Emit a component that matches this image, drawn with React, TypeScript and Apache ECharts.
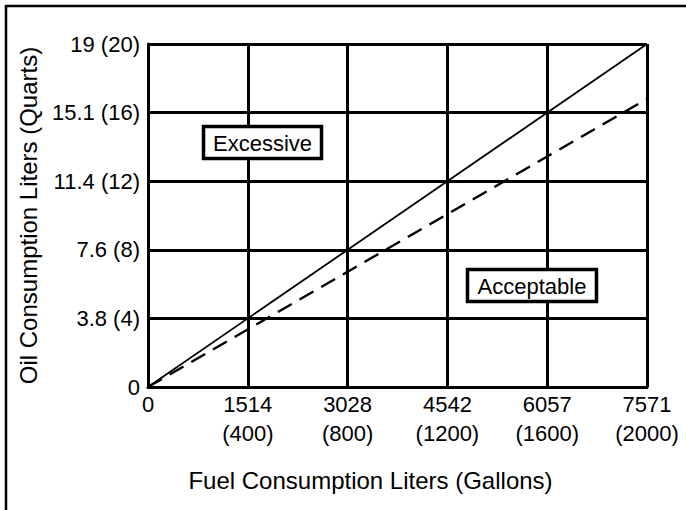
import React, { useEffect, useRef } from "react";
import * as echarts from "echarts";

// Tick labels
const xLiters = ["0", "1514", "3028", "4542", "6057", "7571"];
const xGallons = ["", "400", "800", "1200", "1600", "2000"];
const yLiters = ["0", "3.8", "7.6", "11.4", "15.1", "19"];
const yQuarts = ["", "4", "8", "12", "16", "20"];

// Series (x: gallons, y: quarts)
const limitLine: [number, number][] = [
  [0, 0],
  [2000, 20],
];
const dashedLine: [number, number][] = [
  [0, 0],
  [2000, 16.8],
];

// Region labels (data coords)
const regionLabels = [
  { text: "Excessive", x: 459, y: 14.25 },
  { text: "Acceptable", x: 1539, y: 5.92 },
];

const FONT = "Liberation Sans";

export default function App() {
  const ref = useRef<HTMLDivElement>(null);
  useEffect(() => {
    document.body.style.margin = "0";
    const chart = echarts.init(ref.current!, null, { renderer: "svg" });
    const tickRich = {
      t: { fontFamily: FONT, fontSize: 22, color: "#000", lineHeight: 29, fontWeight: "normal" },
    };
    chart.setOption({
      animation: false,
      backgroundColor: "#fff",
      textStyle: { fontFamily: FONT, color: "#000" },
      grid: { left: 148, right: 39, top: 44, bottom: 123 },
      xAxis: {
        type: "value",
        min: 0,
        max: 2000,
        interval: 400,
        name: "Fuel Consumption Liters (Gallons)",
        nameLocation: "middle",
        nameGap: 81,
        nameTextStyle: {
          fontSize: 24,
          color: "#000",
          fontFamily: FONT,
          padding: [0, 54, 0, 0],
        },
        axisLine: { show: true, lineStyle: { color: "#000", width: 3 } },
        axisTick: { show: false },
        splitLine: { show: true, lineStyle: { color: "#000", width: 3 } },
        axisLabel: {
          fontSize: 22,
          color: "#000",
          fontFamily: FONT,
          margin: 3,
          lineHeight: 29,
          rich: tickRich,
          formatter: (v: number) => {
            const i = Math.round(v / 400);
            return xGallons[i]
              ? `{t|${xLiters[i]}}\n{t|(${xGallons[i]})}`
              : `{t|${xLiters[i]}}`;
          },
        },
      },
      yAxis: {
        type: "value",
        min: 0,
        max: 20,
        interval: 4,
        name: "Oil Consumption Liters (Quarts)",
        nameLocation: "middle",
        nameGap: 108,
        nameTextStyle: { fontSize: 24, color: "#000", fontFamily: FONT },
        axisLine: { show: true, lineStyle: { color: "#000", width: 3 } },
        axisTick: { show: false },
        splitLine: { show: true, lineStyle: { color: "#000", width: 3 } },
        axisLabel: {
          fontSize: 22,
          color: "#000",
          fontFamily: FONT,
          margin: 8,
          rich: tickRich,
          formatter: (v: number) => {
            const i = Math.round(v / 4);
            return yQuarts[i]
              ? `{t|${yLiters[i]} (${yQuarts[i]})}`
              : `{t|${yLiters[i]}}`;
          },
        },
      },
      series: [
        {
          type: "line",
          data: limitLine,
          symbol: "none",
          lineStyle: { color: "#000", width: 1.8 },
          z: 5,
        },
        {
          type: "line",
          data: dashedLine,
          symbol: "none",
          lineStyle: { color: "#000", width: 2.5, type: [16, 9] },
          z: 5,
        },
      ],
    });

    const graphics: any[] = [
      {
        type: "line",
        shape: { x1: 5, y1: 6, x2: 686, y2: 6 },
        style: { stroke: "#000", lineWidth: 2.5 },
      },
      {
        type: "line",
        shape: { x1: 6, y1: 5, x2: 6, y2: 510 },
        style: { stroke: "#000", lineWidth: 2.5 },
      },
    ];
    regionLabels.forEach((l) => {
      const [px, py] = chart.convertToPixel({ gridIndex: 0 }, [l.x, l.y]);
      const w = l.text === "Excessive" ? 118 : 129;
      const h = 32;
      graphics.push({
        type: "rect",
        shape: { x: px - w / 2, y: py - h / 2, width: w, height: h },
        style: { fill: "#fff", stroke: "#000", lineWidth: 3.5 },
        z: 10,
      });
      graphics.push({
        type: "text",
        x: px,
        y: py + 1,
        style: {
          text: l.text,
          fill: "#000",
          font: `22px ${FONT}`,
          textAlign: "center",
          textVerticalAlign: "middle",
        },
        z: 11,
      });
    });
    chart.setOption({ graphic: graphics });

    return () => chart.dispose();
  }, []);
  return <div ref={ref} style={{ width: 686, height: 510 }} />;
}
